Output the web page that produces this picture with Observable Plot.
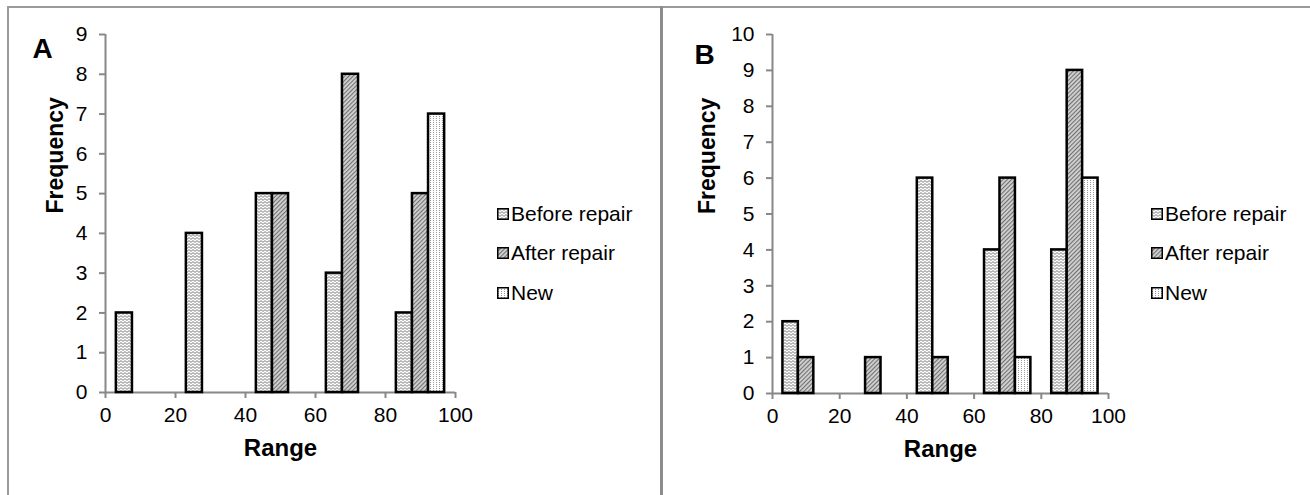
<!DOCTYPE html>
<html>
<head>
<meta charset="utf-8">
<script src="https://cdn.jsdelivr.net/npm/d3@7"></script>
<script src="https://cdn.jsdelivr.net/npm/@observablehq/plot@0.6"></script>
<style>
  html, body { margin: 0; padding: 0; background: #fff; }
  #root { position: relative; width: 1310px; height: 495px; overflow: hidden; background: #fff;
          font-family: "Liberation Sans", Arial, sans-serif; }
  .panel { position: absolute; top: 0; }
  .line { position: absolute; background: #9a9a9a; }
  .legend { position: absolute; font-size: 21px; color: #000; }
  .legend .item { position: absolute; left: 0; white-space: nowrap; height: 24px; line-height: 24px; }
  .legend .item svg { position: absolute; left: 0; top: 6px; }
  .legend .item span { position: absolute; left: 14px; top: 0; }
</style>
</head>
<body>
<svg width="0" height="0" style="position:absolute">
  <defs>
    <pattern id="pBefore" width="4" height="3" patternUnits="userSpaceOnUse">
      <rect width="4" height="3" fill="#ffffff"/>
      <path d="M0,1.5 L1,0.6 L2,1.5 L3,2.4 L4,1.5" stroke="#5a5a5a" stroke-width="0.8" fill="none"/>
    </pattern>
    <pattern id="pAfter" width="3" height="3" patternUnits="userSpaceOnUse" patternTransform="rotate(45)">
      <rect width="3" height="3" fill="#d2d2d2"/>
      <line x1="0.6" y1="0" x2="0.6" y2="3" stroke="#666666" stroke-width="1"/>
    </pattern>
    <pattern id="pNew" width="3" height="2" patternUnits="userSpaceOnUse">
      <rect width="3" height="2" fill="#ffffff"/>
      <rect x="1" y="0" width="1" height="1" fill="#9a9a9a"/>
    </pattern>
  </defs>
</svg>
<div id="root">
  <div class="line" style="left:7px; top:6px; width:1303px; height:2px;"></div>
  <div class="line" style="left:7px; top:6px; width:2px; height:489px;"></div>
  <div class="line" style="left:660px; top:6px; width:3px; height:489px; background:#8c8c8c;"></div>
</div>
<script>
// ---------- data ----------
const binStarts = [0, 20, 40, 60, 80];
const seriesNames = ["Before repair", "After repair", "New"];
const seriesFills = ["url(#pBefore)", "url(#pAfter)", "url(#pNew)"];
const xTicks = [0, 20, 40, 60, 80, 100];

const beforeA = [2, 4, 5, 3, 2];
const afterA  = [0, 0, 5, 8, 5];
const newA    = [0, 0, 0, 0, 7];
const yTicksA = [0, 1, 2, 3, 4, 5, 6, 7, 8, 9];

const beforeB = [2, 0, 6, 4, 4];
const afterB  = [1, 1, 1, 6, 9];
const newB    = [0, 0, 0, 1, 6];
const yTicksB = [0, 1, 2, 3, 4, 5, 6, 7, 8, 9, 10];

// ---------- helpers ----------
const binWidth = 20;
const clusterStart = 0.155; // fraction of bin before first bar
const barFrac = 0.23;       // fraction of bin per bar

function rows(seriesArrays) {
  const out = [];
  seriesArrays.forEach((arr, si) => {
    arr.forEach((v, bi) => {
      if (v > 0) {
        const x1 = binStarts[bi] + binWidth * (clusterStart + si * barFrac);
        out.push({series: seriesNames[si], si, x1, x2: x1 + binWidth * barFrac, y: v});
      }
    });
  });
  return out;
}

const font = "'Liberation Sans', Arial, sans-serif";

function panel(cfg) {
  const data = rows(cfg.series);
  const barMarks = seriesNames.map((name, si) =>
    Plot.rectY(data.filter(d => d.si === si), {
      x1: "x1", x2: "x2", y1: 0, y2: "y",
      fill: seriesFills[si], stroke: "#000", strokeWidth: 2.5, inset: 0
    })
  );
  return Plot.plot({
    width: cfg.width, height: 495,
    marginLeft: cfg.ml, marginRight: cfg.mr, marginTop: cfg.mt, marginBottom: cfg.mb,
    x: {domain: [0, 100], axis: null},
    y: {domain: [0, cfg.ymax], axis: null},
    style: {fontFamily: font, background: "transparent", color: "#000", overflow: "visible", fontSize: "21px"},
    marks: [
      Plot.axisY({ticks: cfg.yTicks, tickSize: 6, tickPadding: 12, stroke: "#888", strokeWidth: 2,
                  fill: "#000", fontSize: 21, tickFormat: d => String(d), label: null}),
      Plot.axisX({ticks: xTicks, tickSize: 6, tickPadding: 9, stroke: "#888", strokeWidth: 2,
                  fill: "#000", fontSize: 21, tickFormat: d => String(d), label: null}),
      Plot.ruleY([0], {stroke: "#888", strokeWidth: 2}),
      Plot.ruleX([0], {y1: 0, y2: cfg.ymax, stroke: "#888", strokeWidth: 2}),
      ...barMarks,
      Plot.text(["Frequency"], {text: d => d, frameAnchor: "left", rotate: -90, dx: cfg.freqDx,
                                fontSize: 23, fontWeight: "bold", fill: "#000"}),
      Plot.text(["Range"], {text: d => d, frameAnchor: "bottom", dy: 63,
                            fontSize: 24, fontWeight: "bold", fill: "#000"}),
      Plot.text([cfg.letter], {text: d => d, frameAnchor: "top-left", textAnchor: "start",
                               dx: cfg.letterDx, dy: cfg.letterDy, fontSize: 28, fontWeight: "bold", fill: "#000"})
    ]
  });
}

function legend(left) {
  const div = document.createElement("div");
  div.className = "legend";
  div.style.left = left + "px";
  div.style.top = "0px";
  const centers = [214, 253, 293];
  seriesNames.forEach((name, i) => {
    const item = document.createElement("div");
    item.className = "item";
    item.style.top = (centers[i] - 12) + "px";
    item.innerHTML = `<svg width="12" height="12"><rect x="0.75" y="0.75" width="10.5" height="10.5" fill="${seriesFills[i]}" stroke="#000" stroke-width="1.5"/></svg><span>${name}</span>`;
    div.appendChild(item);
  });
  return div;
}

const root = document.getElementById("root");

const svgA = panel({series: [beforeA, afterA, newA], ymax: 9, yTicks: yTicksA,
  width: 655, ml: 105, mr: 200, mt: 34, mb: 103, freqDx: -50, letter: "A", letterDx: -73, letterDy: 4});
svgA.classList.add("panel");
svgA.style.left = "0px";
root.appendChild(svgA);
root.appendChild(legend(497));

const svgB = panel({series: [beforeB, afterB, newB], ymax: 10, yTicks: yTicksB,
  width: 650, ml: 112, mr: 202, mt: 34, mb: 102, freqDx: -65, letter: "B", letterDx: -78, letterDy: 10});
svgB.classList.add("panel");
svgB.style.left = "660px";
root.appendChild(svgB);
root.appendChild(legend(1151));
</script>
</body>
</html>
